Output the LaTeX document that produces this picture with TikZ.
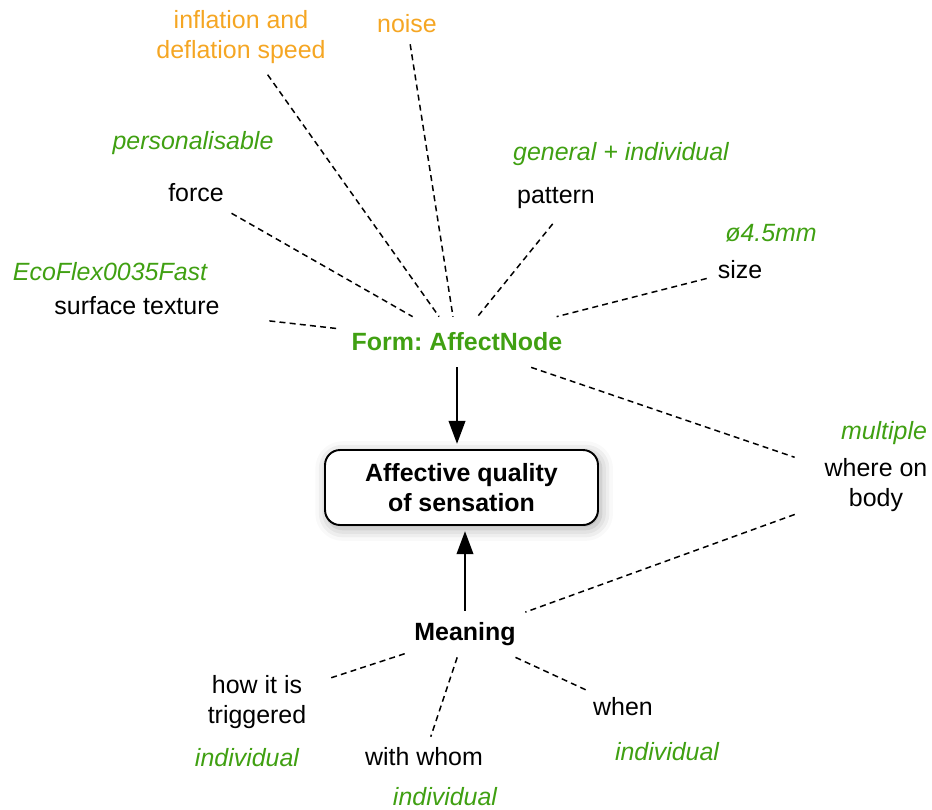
\documentclass[tikz,border=0pt]{standalone}
\usepackage{fontspec}
\setmainfont{Liberation Sans}
\usetikzlibrary{arrows.meta,shadows.blur}
\definecolor{leafgreen}{RGB}{64,160,18}
\definecolor{warmorange}{RGB}{245,166,35}
\newcommand{\labelfont}{\fontsize{14.2}{17}\selectfont}
\frenchspacing

\begin{document}
\begin{tikzpicture}[x=0.02cm,y=-0.02cm,>={Triangle[length=13pt,width=9.5pt]}]
        \tikzstyle{every node}=[font=\labelfont]
        \tikzstyle{aspect}=[outer sep=3pt]
        \tikzstyle{choice}=[font=\labelfont\itshape,text=leafgreen]
        \tikzstyle{extra}=[aspect,text=warmorange,align=center]
        \tikzstyle{hub}=[font=\labelfont\bfseries]
        \tikzstyle{link}=[line width=0.85pt,dash pattern=on 3.4pt off 2.4pt]
        \useasboundingbox (0,0) rectangle (932,809);
        \node[hub,text=leafgreen,minimum width=4.76cm,minimum height=1.0cm] (form) at (457,342) {Form: AffectNode};
        \node[hub,minimum width=2.4cm,minimum height=0.92cm] (meaning) at (465,634) {Meaning};
        \node[hub,draw,line width=1.1pt,fill=white,rounded corners=0.3cm,align=center,minimum width=5.46cm,minimum height=1.5cm,
              blur shadow={shadow xshift=1.5pt,shadow yshift=-2pt,shadow blur radius=7pt,shadow opacity=35}] (affect) at (461.5,487.5) {Affective quality\\of sensation};
        \node[extra] (speed) at (241,37) {inflation and\\deflation speed};
        \node[extra] (noise) at (407,24) {noise};
        \node[choice] (forcenote) at (193,143) {personalisable};
        \node[aspect] (force) at (196,193) {force};
        \node[choice] (texturenote) at (110,272) {EcoFlex0035Fast};
        \node[aspect] (texture) at (137,306) {surface texture};
        \node[choice] (patternnote) at (621,154) {general + individual};
        \node[aspect] (pattern) at (556,198) {pattern};
        \node[choice] (sizenote) at (771,233) {ø4.5mm};
        \node[aspect] (size) at (740,270) {size};
        \node[choice] (wherenote) at (884,433) {multiple};
        \node[aspect,align=center] (where) at (876,485) {where on\\body};
        \node[aspect,align=center] (how) at (257,702) {how it is\\triggered};
        \node[choice] (hownote) at (247,758) {individual};
        \node[aspect] (whom) at (424,757) {with whom};
        \node[choice] (whomnote) at (445,797) {individual};
        \node[aspect] (when) at (623,707) {when};
        \node[choice] (whennote) at (667,752) {individual};
        \draw[link,shorten <=0.78cm] (texture) -- (form);
        \draw[link] (force) -- (form);
        \draw[link] (speed) -- (form);
        \draw[link] (noise) -- (form);
        \draw[link,shorten <=3pt] (pattern.south) -- (form);
        \draw[link] (size) -- (form);
        \draw[link,shorten >=0.4cm] (form) -- (where);
        \draw[link,shorten <=0.4cm] (where) -- (meaning);
        \draw[link,shorten >=0.24cm] (meaning) -- (how);
        \draw[link] (meaning) -- (whom);
        \draw[link,shorten >=-0.15cm] (meaning) -- (when);
        \draw[->,line width=0.85pt,shorten >=3pt] (form) -- (form |- affect.north);
        \draw[->,line width=0.85pt,shorten >=3pt] (meaning) -- (meaning |- affect.south);
\end{tikzpicture}
\end{document}
